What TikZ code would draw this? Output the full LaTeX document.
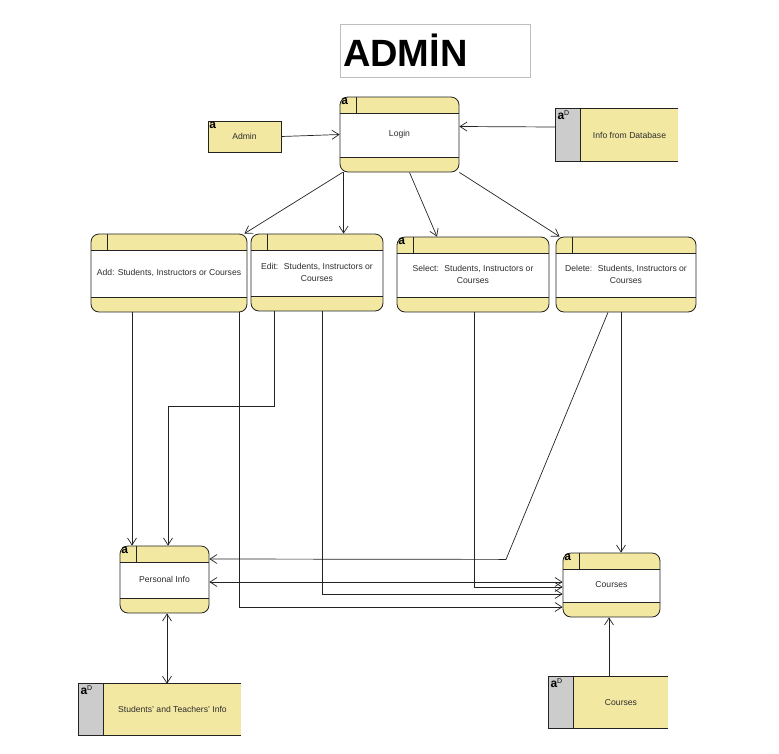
\documentclass[tikz,border=0pt]{standalone}
\usepackage{fontspec}
\usepackage{xcolor}
\usepackage{tikz}
\usetikzlibrary{arrows.meta}
\usetikzlibrary{calc}
\setmainfont{Liberation Sans}

\definecolor{procyellow}{RGB}{243,232,161}
\definecolor{storegray}{RGB}{204,204,204}
\definecolor{boxgray}{RGB}{190,190,190}
\definecolor{linegray}{RGB}{35,35,35}
\definecolor{textgray}{RGB}{45,45,45}

\newcommand{\lbl}{\fontsize{8.6}{11.5}\selectfont\color{textgray}}
\newcommand{\tagfont}{\fontsize{12}{12}\selectfont\bfseries}

% open-ended data store: gray strip on the left of the named node
\newcommand{\storeframe}[1]{%
    \fill[storegray] ([xshift=-25pt]#1.north west) rectangle (#1.south west);
    \draw[line width=0.8pt,draw=linegray] (#1.north east) -- ([xshift=-25pt]#1.north west) -- ([xshift=-25pt]#1.south west) -- (#1.south east);
    \draw[line width=0.8pt,draw=linegray] (#1.north west) -- (#1.south west);
    \node[tag] at ([xshift=-25pt]#1.north west) {a\textsuperscript{\fontsize{7}{7}\selectfont\mdseries D}};}

\begin{document}
\begin{tikzpicture}[x=1pt,y=-1pt,
        flow/.style={draw=linegray,line width=0.7pt,-{Straight Barb[length=7pt,width=9pt,line width=0.7pt]}},
        both/.style={flow,{Straight Barb[length=7pt,width=9pt,line width=0.7pt]}-{Straight Barb[length=7pt,width=9pt,line width=0.7pt]}},
        tag/.style={anchor=north west,inner sep=1.5pt,font=\tagfont},
        proc/.style={draw=linegray,line width=0.8pt,rounded corners=8pt,fill=white,inner sep=2pt,align=center,font=\lbl,
            path picture={
                \fill[procyellow,sharp corners] (path picture bounding box.north west) rectangle ([yshift=-16pt]path picture bounding box.north east);
                \fill[procyellow,sharp corners] (path picture bounding box.south west) rectangle ([yshift=15pt]path picture bounding box.south east);
                \draw[line width=0.8pt,draw=linegray,sharp corners] ([yshift=-16pt]path picture bounding box.north west) -- ([yshift=-16pt]path picture bounding box.north east);
                \draw[line width=0.8pt,draw=linegray,sharp corners] ([yshift=15pt]path picture bounding box.south west) -- ([yshift=15pt]path picture bounding box.south east);
                \draw[line width=0.8pt,draw=linegray,sharp corners] ([xshift=16pt]path picture bounding box.north west) -- ([xshift=16pt,yshift=-16pt]path picture bounding box.north west);
            }},
        entity/.style={draw=linegray,fill=procyellow,line width=0.8pt,minimum width=73pt,minimum height=31pt,font=\lbl},
        store/.style={fill=procyellow,minimum height=51pt,inner sep=0pt,font=\lbl}]
    \useasboundingbox (0,0) rectangle (779,753);

    % title
    \node[draw=boxgray,line width=0.6pt,minimum width=190pt,minimum height=53pt,text width=184pt,align=left,inner sep=3pt,
        font=\fontsize{38}{40}\selectfont\bfseries] (title) at (435,50.5) {ADMİN};

    % processes
    \node[proc,minimum width=119pt,minimum height=75pt,label={[tag]north west:a}] (login) at (399.5,134.5) {Login};
    \node[proc,minimum width=156pt,minimum height=78pt] (add) at (169,273) {Add: Students, Instructors or Courses};
    \node[proc,minimum width=132pt,minimum height=77pt] (edit) at (317,272.5) {Edit:~ Students, Instructors or\\Courses};
    \node[proc,minimum width=152pt,minimum height=75pt,label={[tag]north west:a}] (select) at (473,274.5) {Select:~ Students, Instructors or\\Courses};
    \node[proc,minimum width=140pt,minimum height=75pt] (delete) at (626,274.5) {Delete:~ Students, Instructors or\\Courses};
    \node[proc,minimum width=89pt,minimum height=67pt,label={[tag]north west:a}] (pi) at (164.5,579.5) {Personal Info};
    \node[proc,minimum width=97pt,minimum height=64pt,label={[tag]north west:a}] (cproc) at (611.5,585) {Courses};

    % external entity
    \node[entity,label={[tag]north west:a}] (admin) at (244.5,136.5) {Admin};

    % data stores
    \node[store,minimum width=97pt,minimum height=52pt] (db) at (629.5,135) {Info from Database};
    \node[store,minimum width=137pt] (st) at (172.5,709.5) {Students' and Teachers' Info};
    \node[store,minimum width=94pt] (cs) at (621,702.5) {Courses};
    \storeframe{db}
    \storeframe{st}
    \storeframe{cs}

    % flows into login
    \draw[flow] (admin.east) -- (login.west);
    \draw[flow] ([xshift=-25pt,yshift=8pt]db.west) -- ([yshift=8pt]login.east);

    % flows out of login
    \draw[flow] ([xshift=3pt]login.south west) -- ([xshift=-3pt]add.north east);
    \draw[flow] ([xshift=4pt]login.south west) -- ([xshift=4pt]login.south west |- edit.north);
    \draw[flow] ([xshift=10pt]login.south) -- ([xshift=-36pt]select.north);
    \draw[flow] (login.south east) -- ([xshift=4pt]delete.north west);

    % flows to personal info and courses
    \draw[flow] ([xshift=-37pt]add.south) -- ([xshift=-37pt]add.south |- pi.north);
    \draw[flow] ([xshift=70pt]add.south) |- ([yshift=-22pt]cproc.west);
    \draw[flow] ([xshift=-43pt]edit.south) -- ++(0,95) -| ([xshift=3.5pt]pi.north);
    \draw[flow] ([xshift=5pt]edit.south) |- ([yshift=-9pt]cproc.west);
    \draw[flow] ([xshift=1pt]select.south) |- ([yshift=-2pt]cproc.west);
    \draw[flow] ([xshift=-18pt]delete.south) -- ++(-102,247) -- ([yshift=20.5pt]pi.east);
    \draw[flow] ([xshift=-5pt]delete.south) -- ([xshift=-5pt]delete.south |- cproc.north);
    \draw[both] ([yshift=-2.5pt]pi.east) -- ([yshift=-2.5pt]pi.east -| cproc.west);

    % flows with the data stores
    \draw[both] ([xshift=2.5pt]pi.south) -- ([xshift=2.5pt]pi.south |- st.north);
    \draw[flow] ([xshift=-2.5pt]cproc.south |- cs.north) -- ([xshift=-2.5pt]cproc.south);
\end{tikzpicture}
\end{document}
